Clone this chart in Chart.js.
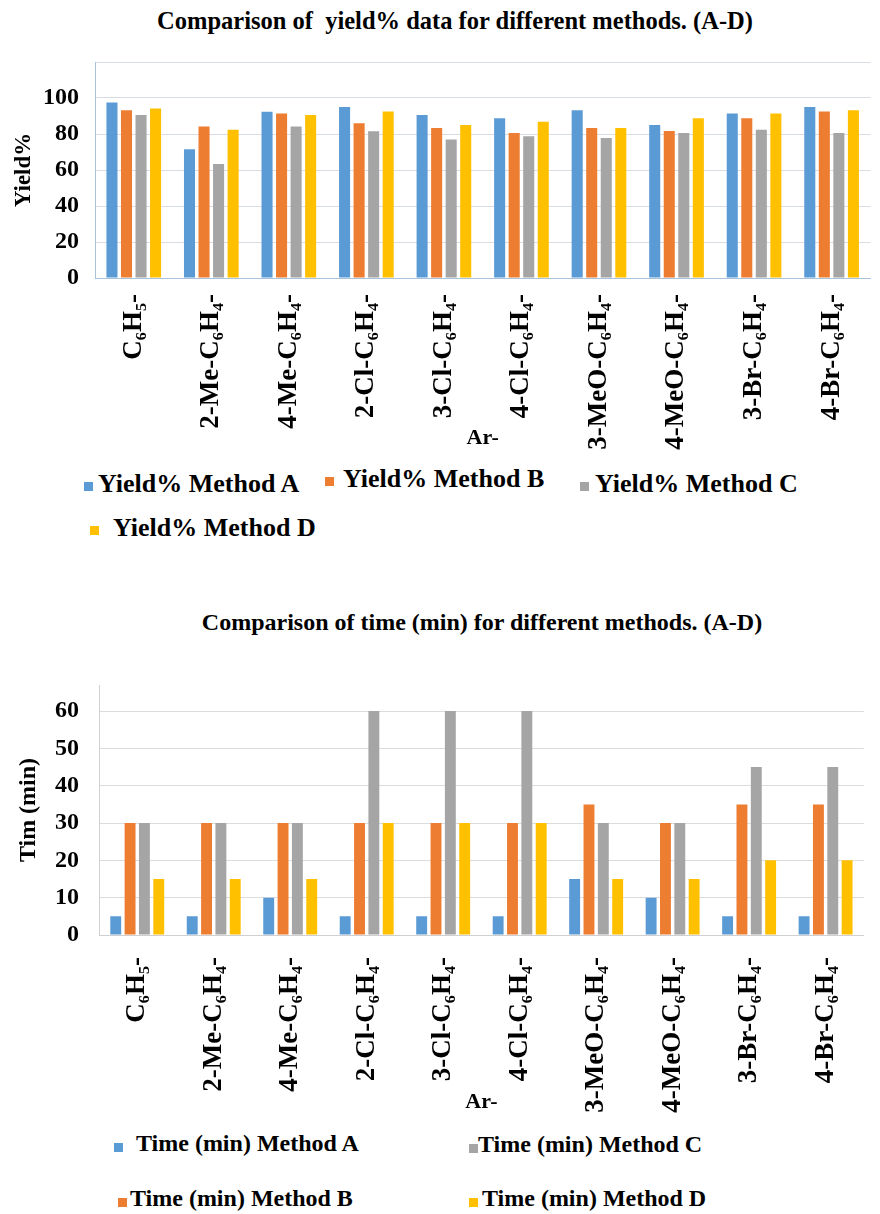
<!DOCTYPE html>
<html>
<head>
<meta charset="utf-8">
<script src="https://cdn.jsdelivr.net/npm/chart.js@4.4.0/dist/chart.umd.min.js"></script>
<style>
  body { margin: 0; background: #fff; width: 880px; height: 1214px; position: relative; overflow: hidden; }
  .title { position: absolute; left: 0; width: 880px; text-align: center; font: bold 24px 'Liberation Serif', Tinos, 'Times New Roman', 'DejaVu Serif', serif; color: #000; }
  .box { position: absolute; left: 0; }
  .leg { position: absolute; font: bold 24px 'Liberation Serif', Tinos, 'Times New Roman', 'DejaVu Serif', serif; color: #000; white-space: nowrap; }
  .sq { position: absolute; width: 9px; height: 9px; }
</style>
</head>
<body>
<div class="title" style="top:7px;left:15px;font-size:24.5px">Comparison of&nbsp; yield% data for different methods. (A-D)</div>
<div class="box" style="top:40px"><canvas id="yieldChart" width="880" height="412"></canvas></div>
<div id="yieldLegend"></div>

<div class="title" style="top:609px;left:42px">Comparison of time (min) for different methods. (A-D)</div>
<div class="box" style="top:650px"><canvas id="timeChart" width="880" height="468"></canvas></div>
<div id="timeLegend"></div>

<script>
const categories = ['C\u2086H\u2085-', '2-Me-C\u2086H\u2084-', '4-Me-C\u2086H\u2084-', '2-Cl-C\u2086H\u2084-', '3-Cl-C\u2086H\u2084-',
  '4-Cl-C\u2086H\u2084-', '3-MeO-C\u2086H\u2084-', '4-MeO-C\u2086H\u2084-', '3-Br-C\u2086H\u2084-', '4-Br-C\u2086H\u2084-'];

const yieldA = [97.5, 71.5, 92.3, 95, 90.6, 88.7, 93.2, 85, 91.4, 95];
const yieldB = [93.2, 84.2, 91.4, 86, 83.3, 80.5, 83.3, 81.6, 88.7, 92.5];
const yieldC = [90.6, 63.3, 84.2, 81.5, 77, 78.8, 77.8, 80.5, 82.3, 80.5];
const yieldD = [94.2, 82.3, 90.6, 92.5, 85, 86.8, 83.3, 88.7, 91.4, 93.2];

const timeA = [5, 5, 10, 5, 5, 5, 15, 10, 5, 5];
const timeB = [30, 30, 30, 30, 30, 30, 35, 30, 35, 35];
const timeC = [30, 30, 30, 60, 60, 60, 30, 30, 45, 45];
const timeD = [15, 15, 15, 30, 30, 30, 15, 15, 20, 20];

const colors = ['#5b9bd5', '#ed7d31', '#a5a5a5', '#ffc000'];
const serif = "'Liberation Serif', Tinos, 'Times New Roman', 'DejaVu Serif', serif";

Chart.defaults.font.family = serif;
Chart.defaults.font.weight = 'bold';
Chart.defaults.color = '#000';

function makeDatasets(prefix, series) {
  return series.map((values, i) => ({
    label: prefix + ' Method ' + 'ABCD'[i],
    data: values,
    backgroundColor: colors[i],
    barPercentage: 0.76,
    categoryPercentage: 0.75,
  }));
}

// fixed y-axis width; drop the tick-label padding so the layout top padding is exact
function fixY(scale) {
  scale.width = 85;
  scale.paddingTop = 0;
  scale.paddingBottom = 0;
}

function drawLegend(id, chart, spots) {
  const holder = document.getElementById(id);
  chart.data.datasets.forEach((ds, i) => {
    const s = spots[i];
    const sq = document.createElement('div');
    sq.className = 'sq';
    sq.style.left = s.sx + 'px';
    sq.style.top = (s.y - 3) + 'px';
    sq.style.background = ds.backgroundColor;
    const txt = document.createElement('div');
    txt.className = 'leg';
    txt.style.left = s.tx + 'px';
    txt.style.top = (s.y - 16) + 'px';
    txt.style.fontSize = s.size + 'px';
    txt.textContent = ds.label;
    holder.appendChild(sq);
    holder.appendChild(txt);
  });
}

const yieldChart = new Chart(document.getElementById('yieldChart'), {
  type: 'bar',
  data: { labels: categories, datasets: makeDatasets('Yield%', [yieldA, yieldB, yieldC, yieldD]) },
  options: {
    responsive: false,
    animation: false,
    devicePixelRatio: 1,
    layout: { padding: { top: 22, left: 10, right: 0, bottom: 0 } },
    plugins: { legend: { display: false }, tooltip: { enabled: false } },
    scales: {
      x: {
        grid: { display: false, drawTicks: false },
        border: { color: '#a9c3dc' },
        ticks: { minRotation: 90, maxRotation: 90, autoSkip: false, padding: 16, font: { size: 27 } },
        title: { display: true, text: 'Ar-', font: { size: 22 }, padding: { top: 0, bottom: 0 } },
        afterFit: (scale) => { scale.height = 174; },
      },
      y: {
        min: 0,
        max: 120,
        ticks: { stepSize: 20, padding: 16, font: { size: 24 }, callback: (v) => (v > 100 ? '' : v) },
        grid: { color: '#d8dde3', drawTicks: false },
        border: { color: '#a9c3dc' },
        title: { display: true, text: 'Yield%', font: { size: 23 }, padding: { top: 0, bottom: 0 } },
        afterFit: fixY,
      },
    },
  },
});

const timeChart = new Chart(document.getElementById('timeChart'), {
  type: 'bar',
  data: { labels: categories, datasets: makeDatasets('Time (min)', [timeA, timeB, timeC, timeD]) },
  options: {
    responsive: false,
    animation: false,
    devicePixelRatio: 1,
    layout: { padding: { top: 35, left: 14, right: 0, bottom: 0 } },
    plugins: { legend: { display: false }, tooltip: { enabled: false } },
    scales: {
      x: {
        grid: { display: false, drawTicks: false },
        border: { color: '#d0d0d0' },
        ticks: { minRotation: 90, maxRotation: 90, autoSkip: false, padding: 22, font: { size: 27 } },
        title: { display: true, text: 'Ar-', font: { size: 22 }, padding: { top: 0, bottom: 2 } },
        afterFit: (scale) => { scale.height = 183; },
      },
      y: {
        min: 0,
        max: 67,
        ticks: { stepSize: 10, padding: 20, font: { size: 24 } },
        afterBuildTicks: (scale) => { scale.ticks = scale.ticks.filter((t) => t.value % 10 === 0); },
        grid: { color: '#dcdcdc', drawTicks: false },
        border: { color: '#d0d0d0' },
        title: { display: true, text: 'Tim (min)', font: { size: 24 }, padding: { top: 0, bottom: 0 } },
        afterFit: fixY,
      },
    },
  },
});

drawLegend('yieldLegend', yieldChart, [
  { sx: 84, tx: 98, y: 485, size: 26 },
  { sx: 325, tx: 343, y: 480, size: 26 },
  { sx: 580, tx: 595, y: 485, size: 26 },
  { sx: 90, tx: 113, y: 529, size: 26 },
]);

drawLegend('timeLegend', timeChart, [
  { sx: 114, tx: 136, y: 1146, size: 24 },
  { sx: 118, tx: 130, y: 1201, size: 24 },
  { sx: 469, tx: 478, y: 1147, size: 24 },
  { sx: 469, tx: 482, y: 1201, size: 24 },
]);
</script>
</body>
</html>
